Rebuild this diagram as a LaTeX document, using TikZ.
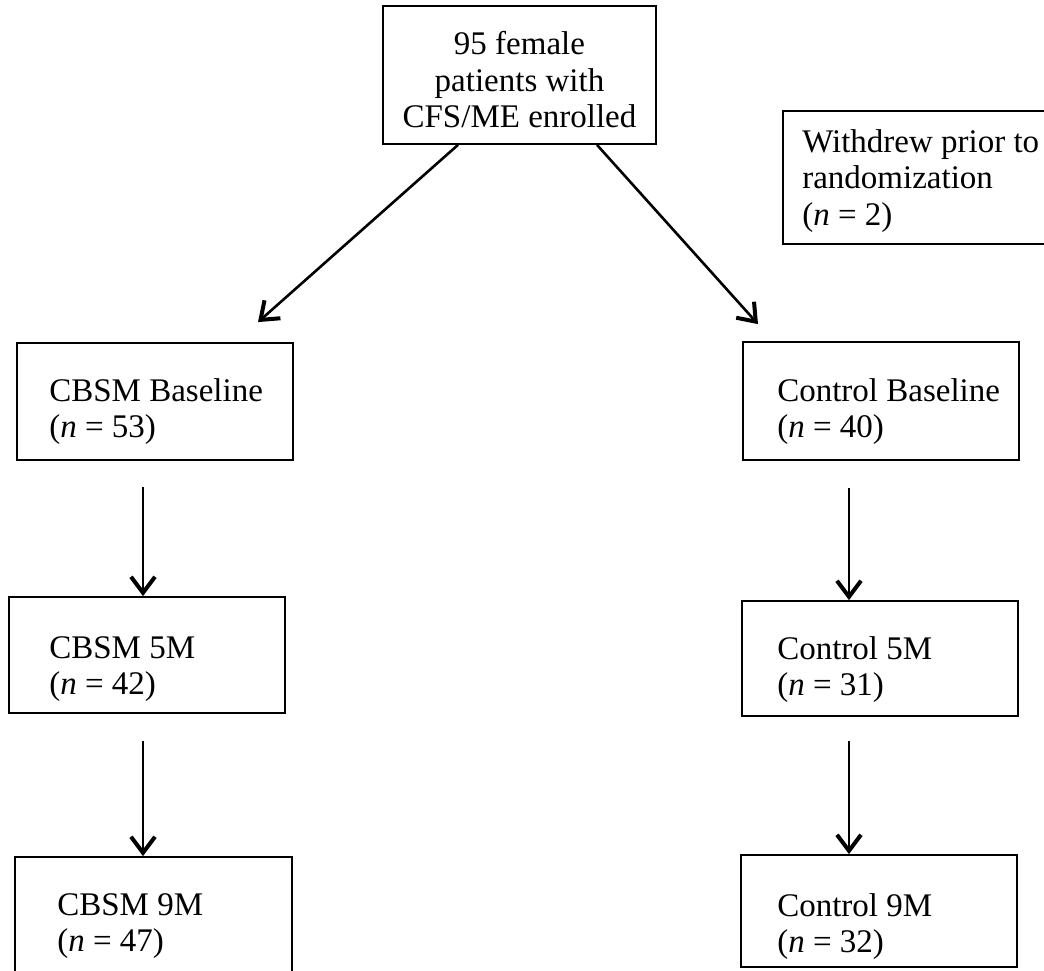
\documentclass[tikz,border=0pt]{standalone}
\usepackage{fontspec}
\setmainfont{Liberation Serif}
\usetikzlibrary{arrows.meta, positioning}

\begin{document}
\begin{tikzpicture}[x=1pt, y=1pt,
	box/.style={draw, line width=1.8pt, minimum width=276pt, minimum height=117pt, inner sep=0pt},
	txt/.style={align=left, inner sep=0pt, anchor=north west, font=\fontsize{33}{36.5}\selectfont},
	arr/.style={line width=2.6pt, -{Straight Barb[length=16pt, width=24pt, line width=4pt]}}]
	
	\useasboundingbox (0,0) rectangle (1044,970);
	
	% caixa de cima
	\node[box, minimum width=273pt, minimum height=138pt] (enroll) at (519.5,895) {};
	\node[txt, anchor=north, align=center] (enrollt) at ([yshift=-26pt]enroll.north) {95 female\\patients with\\CFS/ME enrolled};
	\node[box, minimum width=263pt, minimum height=133pt] (withdrew) at (914.5,792.5) {};
	\node[txt] (withdrewt) at ([xshift=20pt, yshift=-19pt]withdrew.north west) {Withdrew prior to\\randomization\\(\textit{n} = 2)};
	
	% grupo CBSM
	\node[box] (cb0) at (155,568.5) {};
	\node[txt] (cb0t) at ([xshift=33pt, yshift=-36pt]cb0.north west) {CBSM Baseline\\(\textit{n} = 53)};
	\node[box, minimum height=116pt] (cb5) at (147,315) {};
	\node[txt] (cb5t) at ([xshift=41pt, yshift=-40pt]cb5.north west) {CBSM 5M\\(\textit{n} = 42)};
	\node[box, minimum width=277pt, minimum height=118pt] (cb9) at (153.5,54) {};
	\node[txt] (cb9t) at ([xshift=43pt, yshift=-37pt]cb9.north west) {CBSM 9M\\(\textit{n} = 47)};
	
	% grupo controle
	\node[box, minimum height=118pt] (ct0) at (881,569) {};
	\node[txt] (ct0t) at ([xshift=35pt, yshift=-37pt]ct0.north west) {Control Baseline\\(\textit{n} = 40)};
	\node[box, minimum height=115pt] (ct5) at (880,311.5) {};
	\node[txt] (ct5t) at ([xshift=36pt, yshift=-36pt]ct5.north west) {Control 5M\\(\textit{n} = 31)};
	\node[box, minimum height=112pt] (ct9) at (879,59) {};
	\node[txt] (ct9t) at ([xshift=37pt, yshift=-39pt]ct9.north west) {Control 9M\\(\textit{n} = 32)};
	
	% setas
	\draw[arr] ([xshift=-61.5pt]enroll.south) -- ([xshift=103pt, yshift=20pt]cb0.north);
	\draw[arr] ([xshift=77.5pt]enroll.south) -- ([xshift=-123pt, yshift=17pt]ct0.north);
	\draw[arr] ([xshift=-12pt, yshift=-26.5pt]cb0.south) -- ([xshift=-4pt]cb5.north);
	\draw[arr] ([xshift=-4pt, yshift=-27pt]cb5.south) -- ([xshift=-10.5pt]cb9.north);
	\draw[arr] ([xshift=-32pt, yshift=-27pt]ct0.south) -- ([xshift=-31pt]ct5.north);
	\draw[arr] ([xshift=-31pt, yshift=-24pt]ct5.south) -- ([xshift=-30pt]ct9.north);
\end{tikzpicture}
\end{document}
